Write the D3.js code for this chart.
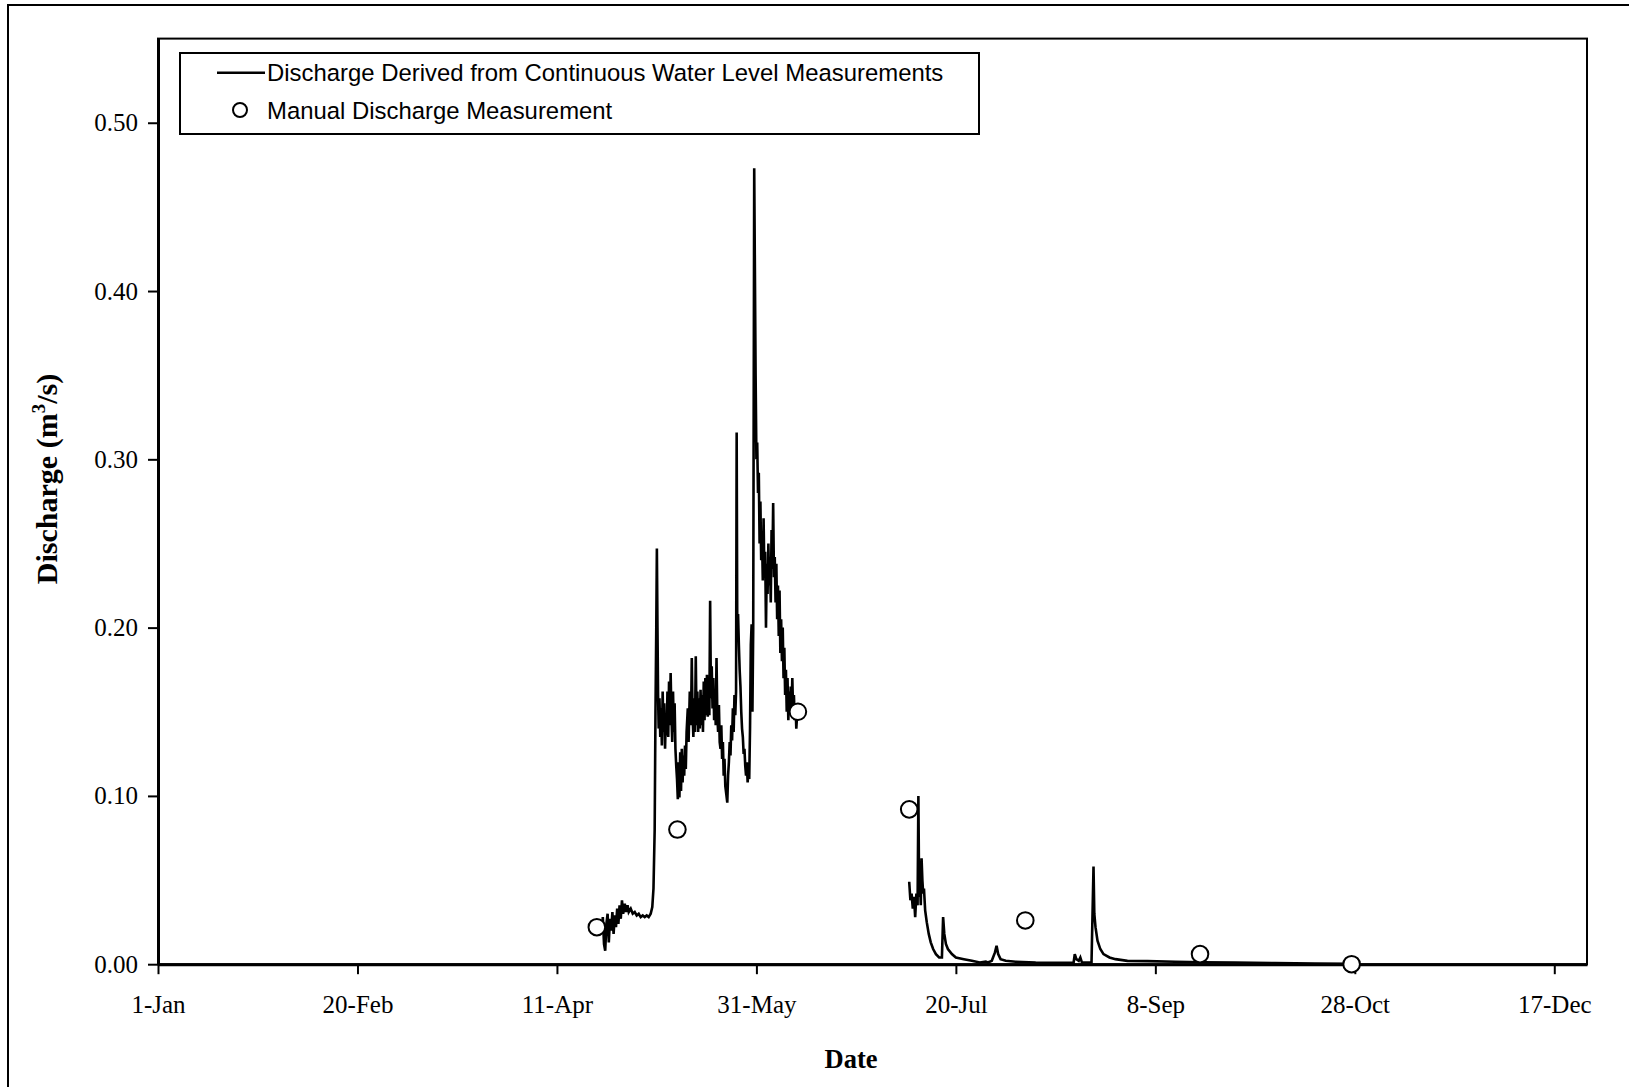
<!DOCTYPE html>
<html><head><meta charset="utf-8">
<script src="https://cdn.jsdelivr.net/npm/d3@7"></script>
<style>body{margin:0;background:#fff}</style>
</head><body><svg id="chart" width="1629" height="1087"></svg>
<script>
// ---- data (day of year: 0 = 1-Jan) ----
const xTickDays = [0, 50, 100, 150, 200, 250, 300, 350];
const xTickLabels = ["1-Jan", "20-Feb", "11-Apr", "31-May", "20-Jul", "8-Sep", "28-Oct", "17-Dec"];
const yTickValues = [0, 0.1, 0.2, 0.3, 0.4, 0.5];
const yTickLabels = ["0.00", "0.10", "0.20", "0.30", "0.40", "0.50"];

// continuous discharge, spring/early-summer record
const springDay = [110.8,111.2,111.5,111.8,112.1,112.4,112.7,113.0,113.3,113.6,113.9,114.2,114.5,114.8,115.1,115.4,115.7,116.0,116.3,116.6,117.0,117.3,117.7,118.0,118.5,119.0,119.5,120.0,120.5,121.0,121.5,122.0,122.5,123.0,123.5,123.9,124.2,124.5,124.7,124.9,125.05,125.2,125.35,125.5,125.7,125.9,126.1,126.3,126.5,126.7,126.9,127.1,127.3,127.5,127.7,127.9,128.1,128.3,128.5,128.7,128.9,129.1,129.3,129.5,129.7,129.9,130.1,130.3,130.5,130.7,130.9,131.1,131.3,131.5,131.7,131.9,132.1,132.3,132.5,132.8,133.0,133.3,133.6,133.8,134.0,134.2,134.4,134.6,134.8,135.0,135.2,135.4,135.6,135.8,136.0,136.2,136.4,136.6,136.8,137.0,137.2,137.4,137.6,137.8,138.0,138.2,138.4,138.6,138.8,139.0,139.2,139.4,139.6,139.8,140.0,140.2,140.4,140.6,140.8,141.0,141.2,141.4,141.6,141.8,142.0,142.2,142.5,142.7,142.9,143.1,143.3,143.5,143.7,143.9,144.1,144.3,144.5,144.7,144.9,145.05,145.2,145.4,145.6,145.8,146.0,146.2,146.4,146.6,146.8,147.0,147.2,147.4,147.6,147.8,148.0,148.2,148.4,148.6,148.8,149.0,149.2,149.45,149.6,149.8,150.0,150.2,150.4,150.6,150.8,151.0,151.2,151.4,151.6,151.8,152.0,152.2,152.4,152.6,152.8,153.0,153.2,153.4,153.6,153.8,154.0,154.2,154.4,154.6,154.8,155.0,155.2,155.4,155.6,155.8,156.0,156.2,156.4,156.6,156.8,157.0,157.2,157.4,157.6,157.8,158.0,158.2,158.4,158.6,158.8,159.0,159.2,159.4,159.6,159.8,160.0,160.2];
const springQ = [0.026,0.018,0.028,0.012,0.008,0.024,0.030,0.013,0.027,0.020,0.031,0.018,0.029,0.022,0.033,0.024,0.035,0.027,0.038,0.030,0.036,0.031,0.035,0.031,0.033,0.030,0.031,0.029,0.030,0.028,0.029,0.028,0.029,0.028,0.030,0.034,0.045,0.080,0.150,0.200,0.247,0.200,0.160,0.140,0.158,0.135,0.152,0.130,0.162,0.138,0.155,0.128,0.148,0.136,0.162,0.135,0.168,0.142,0.173,0.148,0.132,0.162,0.138,0.155,0.128,0.118,0.110,0.098,0.120,0.099,0.126,0.103,0.128,0.108,0.124,0.112,0.130,0.116,0.138,0.152,0.132,0.162,0.142,0.182,0.148,0.135,0.158,0.138,0.183,0.142,0.162,0.138,0.158,0.140,0.163,0.142,0.160,0.138,0.168,0.145,0.170,0.148,0.172,0.147,0.167,0.148,0.216,0.158,0.177,0.152,0.170,0.145,0.162,0.142,0.182,0.148,0.138,0.154,0.132,0.128,0.142,0.122,0.132,0.112,0.122,0.106,0.100,0.096,0.112,0.120,0.132,0.124,0.142,0.133,0.152,0.138,0.160,0.148,0.162,0.316,0.200,0.208,0.190,0.175,0.165,0.150,0.140,0.135,0.125,0.128,0.118,0.112,0.120,0.108,0.115,0.110,0.140,0.190,0.202,0.150,0.200,0.473,0.420,0.350,0.300,0.310,0.280,0.292,0.250,0.275,0.240,0.255,0.228,0.265,0.230,0.245,0.200,0.238,0.220,0.250,0.225,0.240,0.215,0.258,0.235,0.274,0.230,0.242,0.215,0.238,0.205,0.225,0.195,0.222,0.185,0.205,0.180,0.200,0.170,0.188,0.160,0.175,0.150,0.170,0.145,0.162,0.150,0.165,0.148,0.170,0.150,0.160,0.145,0.155,0.140,0.148];

// continuous discharge, summer/autumn record
const summerDay = [188.3,188.6,188.9,189.2,189.5,189.8,190.1,190.4,190.6,190.8,191.0,191.2,191.4,191.6,191.8,192.0,192.3,192.7,193.2,193.7,194.3,195.0,195.8,196.5,196.8,197.1,197.5,198.0,199.0,200.0,202.0,204.0,206.0,207.5,208.0,209.0,209.8,210.2,210.6,211.2,212.5,215.0,220.0,225.0,229.5,229.8,230.2,230.8,231.2,231.6,234.0,234.5,234.7,235.0,235.5,236.2,237.0,238.5,240.0,243.0,248.0,255.0,262.0,270.0,280.0,290.0,299.0];
const summerQ = [0.049,0.038,0.042,0.033,0.040,0.028,0.042,0.035,0.100,0.040,0.050,0.035,0.063,0.050,0.042,0.045,0.032,0.025,0.018,0.013,0.009,0.006,0.004,0.004,0.028,0.018,0.012,0.009,0.006,0.004,0.003,0.002,0.001,0.0015,0.001,0.002,0.007,0.011,0.006,0.003,0.002,0.0015,0.001,0.0008,0.0008,0.006,0.003,0.002,0.004,0.001,0.001,0.058,0.030,0.022,0.014,0.009,0.006,0.004,0.003,0.002,0.0018,0.0015,0.0012,0.0010,0.0007,0.0004,0.0002];

// manual discharge measurements
const manualDay = [110.0, 130.2, 160.4, 188.3, 217.4, 261.2, 299.2];
const manualQ = [0.022, 0.080, 0.150, 0.092, 0.026, 0.006, 0.000];

// ---- drawing ----
const svg = d3.select("#chart");
const mLeft = 158, mRight = 1587, mTop = 38.6, mBottom = 964.2;
const x = d3.scaleLinear().domain([0, 358.2]).range([mLeft, mRight]);
const y = d3.scaleLinear().domain([0, 0.55]).range([mBottom, mTop]);

// outer frame
svg.append("rect").attr("x", 8).attr("y", 5).attr("width", 1700).attr("height", 1200)
  .attr("fill", "none").attr("stroke", "#000").attr("stroke-width", 2);

// plot frame
svg.append("rect").attr("x", mLeft).attr("y", mTop).attr("width", mRight - mLeft).attr("height", mBottom - mTop)
  .attr("fill", "none").attr("stroke", "#000").attr("stroke-width", 2);

const serif = "'Liberation Serif','Times New Roman',serif";
const sans = "'Liberation Sans',Arial,sans-serif";

const yAxis = svg.append("g").attr("transform", `translate(${mLeft},0)`)
  .call(d3.axisLeft(y).tickValues(yTickValues).tickFormat((d, i) => yTickLabels[i])
    .tickSize(10).tickSizeOuter(0).tickPadding(10));
const xAxis = svg.append("g").attr("transform", `translate(0,${mBottom})`)
  .call(d3.axisBottom(x).tickValues(xTickDays).tickFormat((d, i) => xTickLabels[i])
    .tickSize(10).tickSizeOuter(0).tickPadding(21));
[yAxis, xAxis].forEach(g => {
  g.select(".domain").attr("stroke", "#000").attr("stroke-width", 3);
  g.selectAll(".tick line").attr("stroke", "#000").attr("stroke-width", 2);
  g.selectAll(".tick text").attr("fill", "#000").style("font-family", serif).style("font-size", "25px");
});

// series
const line = d3.line().x(d => x(d[0])).y(d => y(d[1]));
[[springDay, springQ], [summerDay, summerQ]].forEach(([ds, qs]) => {
  svg.append("path").datum(ds.map((d, i) => [d, qs[i]]))
    .attr("d", line).attr("fill", "none").attr("stroke", "#000")
    .attr("stroke-width", 2.6).attr("stroke-linejoin", "miter");
});

svg.append("g").selectAll("circle").data(manualDay.map((d, i) => [d, manualQ[i]]))
  .join("circle").attr("cx", d => x(d[0])).attr("cy", d => y(d[1])).attr("r", 8.3)
  .attr("fill", "#fff").attr("stroke", "#000").attr("stroke-width", 2);

// axis titles
svg.append("text").attr("x", 851).attr("y", 1068).attr("text-anchor", "middle")
  .style("font-family", serif).style("font-size", "26.5px").style("font-weight", "bold").text("Date");
const yt = svg.append("text").attr("transform", "translate(57,479) rotate(-90)").attr("text-anchor", "middle")
  .style("font-family", serif).style("font-size", "30px").style("font-weight", "bold");
yt.append("tspan").text("Discharge (m");
yt.append("tspan").attr("dy", -12).style("font-size", "19px").text("3");
yt.append("tspan").attr("dy", 12).text("/s)");

// legend
const lg = svg.append("g");
lg.append("rect").attr("x", 180).attr("y", 53).attr("width", 799).attr("height", 81)
  .attr("fill", "#fff").attr("stroke", "#000").attr("stroke-width", 2);
lg.append("line").attr("x1", 217).attr("x2", 265).attr("y1", 72.7).attr("y2", 72.7)
  .attr("stroke", "#000").attr("stroke-width", 2.4);
lg.append("text").attr("x", 267).attr("y", 81).style("font-family", sans).style("font-size", "23.9px")
  .text("Discharge Derived from Continuous Water Level Measurements");
lg.append("circle").attr("cx", 240).attr("cy", 110).attr("r", 7).attr("fill", "#fff")
  .attr("stroke", "#000").attr("stroke-width", 2);
lg.append("text").attr("x", 267).attr("y", 118.5).style("font-family", sans).style("font-size", "23.9px")
  .text("Manual Discharge Measurement");
</script></body></html>
